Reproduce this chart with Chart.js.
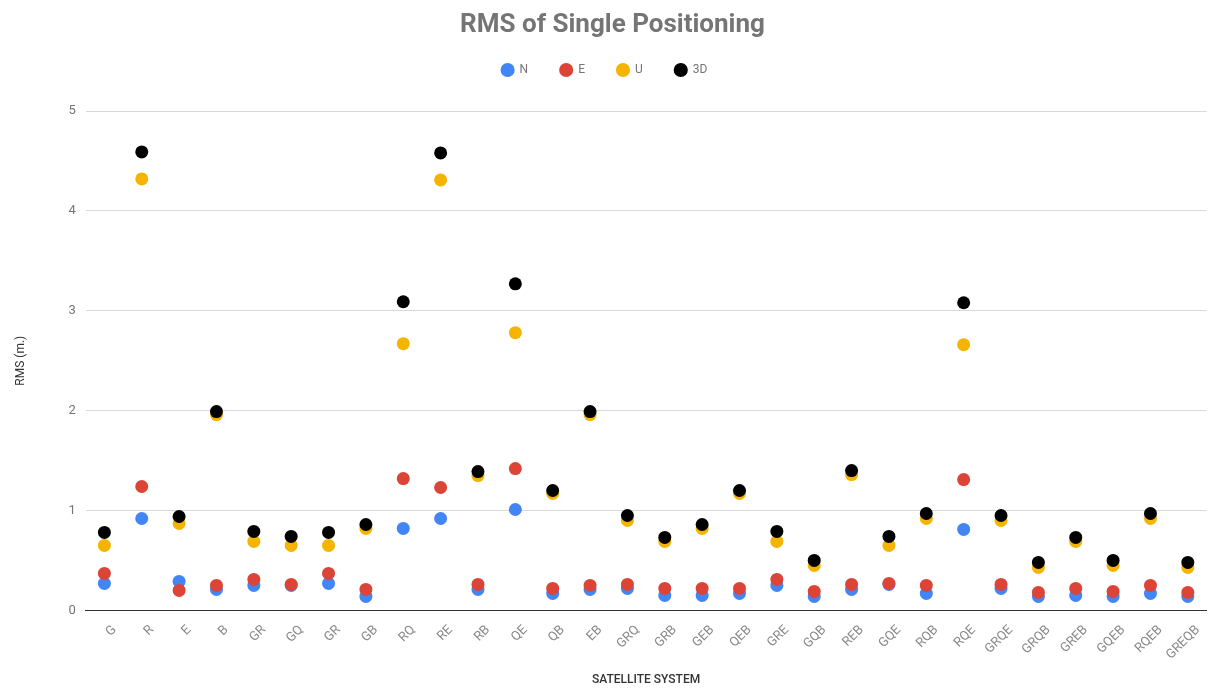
<!DOCTYPE html>
<html>
<head>
<meta charset="utf-8">
<script src="https://cdn.jsdelivr.net/npm/chart.js@4"></script>
<style>
  body { margin: 0; background: #fff; }
  #wrap { width: 1213px; height: 689px; }
</style>
</head>
<body>
<div id="wrap"><canvas id="rmsChart"></canvas></div>
<script>
// Satellite system combinations (x axis)
const systems = ['G', 'R', 'E', 'B', 'GR', 'GQ', 'GR', 'GB', 'RQ', 'RE', 'RB', 'QE', 'QB', 'EB', 'GRQ',
    'GRB', 'GEB', 'QEB', 'GRE', 'GQB', 'REB', 'GQE', 'RQB', 'RQE', 'GRQE', 'GRQB', 'GREB', 'GQEB', 'RQEB', 'GREQB'];

// RMS values (m.)
const rmsN = [0.27, 0.92, 0.29, 0.21, 0.25, 0.25, 0.27, 0.14, 0.82, 0.92, 0.21, 1.01, 0.17, 0.21, 0.22,
    0.15, 0.15, 0.17, 0.25, 0.14, 0.21, 0.26, 0.17, 0.81, 0.22, 0.14, 0.15, 0.14, 0.17, 0.14];
const rmsE = [0.37, 1.24, 0.20, 0.25, 0.31, 0.26, 0.37, 0.21, 1.32, 1.23, 0.26, 1.42, 0.22, 0.25, 0.26,
    0.22, 0.22, 0.22, 0.31, 0.19, 0.26, 0.27, 0.25, 1.31, 0.26, 0.18, 0.22, 0.19, 0.25, 0.18];
const rmsU = [0.65, 4.32, 0.87, 1.96, 0.69, 0.65, 0.65, 0.82, 2.67, 4.31, 1.35, 2.78, 1.17, 1.96, 0.90,
    0.69, 0.82, 1.17, 0.69, 0.45, 1.36, 0.65, 0.92, 2.66, 0.90, 0.43, 0.69, 0.45, 0.92, 0.43];
const rms3D = [0.78, 4.59, 0.94, 1.99, 0.79, 0.74, 0.78, 0.86, 3.09, 4.58, 1.39, 3.27, 1.20, 1.99, 0.95,
    0.73, 0.86, 1.20, 0.79, 0.50, 1.40, 0.74, 0.97, 3.08, 0.95, 0.48, 0.73, 0.50, 0.97, 0.48];

const yTicks = [0, 1, 2, 3, 4, 5];

// push the plot down a bit below the legend, and nudge the legend left
const legendGap = {
    id: 'legendGap',
    beforeInit(chart) {
        const origFit = chart.legend.fit;
        chart.legend.fit = function () {
            origFit.bind(chart.legend)();
            this.height += 25;
        };
    },
    afterLayout(chart) {
        chart.legend.left -= 8;
        chart.legend.right -= 8;
    },
};

function dots(label, data, color, order) {
    return {
        label: label,
        data: data,
        backgroundColor: color,
        borderColor: color,
        borderWidth: 0,
        pointRadius: 6.5,
        pointHoverRadius: 6.5,
        showLine: false,
        order: order,
    };
}

const ctx = document.getElementById('rmsChart').getContext('2d');
const rmsChart = new Chart(ctx, {
    type: 'line',
    data: {
        labels: systems,
        datasets: [
            dots('N', rmsN, '#4285F4', 3),
            dots('E', rmsE, '#DB4437', 2),
            dots('U', rmsU, '#F4B400', 1),
            dots('3D', rms3D, '#000000', 0),
        ],
    },
    plugins: [legendGap],
    options: {
        responsive: true,
        maintainAspectRatio: false,
        animation: false,
        layout: { padding: { left: 14, right: 2, top: 0, bottom: 2 } },
        plugins: {
            title: {
                display: true,
                text: 'RMS of Single Positioning',
                color: '#757575',
                font: { family: 'Roboto', size: 26, weight: 'bold', lineHeight: 1 },
                padding: { top: 12, bottom: -6 },
            },
            legend: {
                labels: {
                    usePointStyle: true,
                    pointStyle: 'circle',
                    boxHeight: 10,
                    padding: 32,
                    color: '#757575',
                    font: { family: 'Roboto', size: 12 },
                    sort: (a, b) => a.datasetIndex - b.datasetIndex,
                },
            },
            tooltip: { enabled: false },
        },
        scales: {
            x: {
                offset: true,
                grid: { display: false },
                border: { display: true, color: '#333333', width: 1 },
                ticks: {
                    minRotation: 45,
                    maxRotation: 90,
                    autoSkip: false,
                    labelOffset: 10,
                    color: '#888888',
                    padding: 4,
                    font: { family: 'Roboto', size: 13 },
                },
                title: {
                    display: true,
                    text: 'SATELLITE SYSTEM',
                    color: '#333333',
                    font: { family: 'Roboto', size: 12, weight: '500' },
                    padding: { top: 6, bottom: 0 },
                },
            },
            y: {
                min: 0,
                max: 5,
                afterBuildTicks: (scale) => {
                    scale.ticks = yTicks.map(v => ({ value: v }));
                },
                border: { display: false },
                grid: {
                    drawTicks: false,
                    color: (c) => (c.tick && c.tick.value === 0 ? '#333333' : '#d9d9d9'),
                },
                ticks: {
                    color: '#757575',
                    padding: 10,
                    font: { family: 'Roboto', size: 13 },
                },
                title: {
                    display: true,
                    text: 'RMS (m.)',
                    color: '#333333',
                    font: { family: 'Roboto', size: 12 },
                    padding: { top: 0, bottom: 30 },
                },
            },
        },
    },
});
</script>
</body>
</html>
